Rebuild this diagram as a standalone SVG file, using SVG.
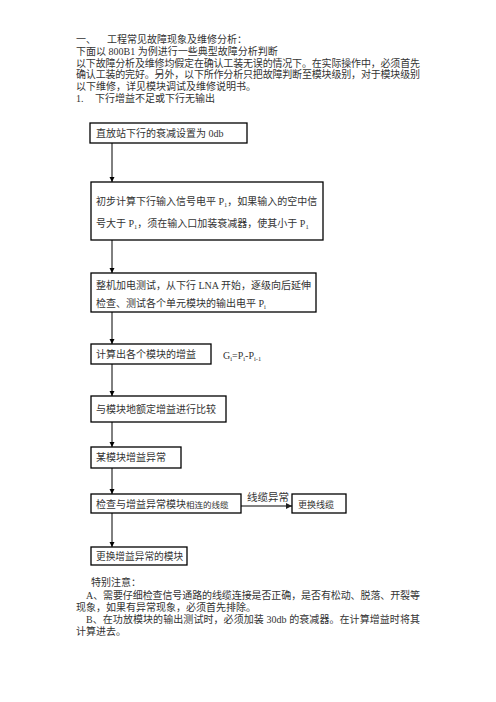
<svg xmlns="http://www.w3.org/2000/svg" width="496" height="702" viewBox="0 0 496 702">
<defs>
<marker id="ah" markerWidth="6" markerHeight="6" refX="5" refY="3" orient="auto" markerUnits="userSpaceOnUse">
<path d="M0,0.5 L5,3 L0,5.5 Z" fill="#000"/>
</marker>
<marker id="ahg" markerWidth="7" markerHeight="7" refX="6" refY="3.5" orient="auto" markerUnits="userSpaceOnUse">
<path d="M0,0.5 L6,3.5 L0,6.5 Z" fill="#222"/>
</marker>
</defs>
<style>
text{font-family:"Liberation Serif","Noto Sans CJK SC",serif;font-size:10px;fill:#333}
.box rect{fill:#fff;stroke:#000;stroke-width:1.3}
.sub{font-size:6.5px}
.conn line{stroke:#000;stroke-width:1}
</style>
<rect width="496" height="702" fill="#fff"/>
<g id="header">
<text x="76" y="43">一、</text>
<text x="107" y="43">工程常见故障现象及维修分析：</text>
<text x="76" y="55">下面以 800B1 为例进行一些典型故障分析判断</text>
<text x="76" y="66.5" textLength="344" lengthAdjust="spacing">以下故障分析及维修均假定在确认工装无误的情况下。在实际操作中，必须首先</text>
<text x="76" y="78" textLength="344" lengthAdjust="spacing">确认工装的完好。另外，以下所作分析只把故障判断至模块级别，对于模块级别</text>
<text x="76" y="89.5">以下维修，详见模块调试及维修说明书。</text>
<text x="76" y="102">1.</text>
<text x="95" y="102">下行增益不足或下行无输出</text>
</g>
<g class="conn" id="connectors">
<line x1="112" y1="143" x2="112" y2="182" marker-end="url(#ah)"/>
<line x1="112" y1="240" x2="112" y2="273" marker-end="url(#ah)"/>
<line x1="112" y1="312" x2="112" y2="344" marker-end="url(#ah)"/>
<line x1="112" y1="364" x2="112" y2="396" marker-end="url(#ah)"/>
<line x1="112" y1="422" x2="112" y2="447" marker-end="url(#ah)"/>
<line x1="112" y1="468" x2="112" y2="494" marker-end="url(#ah)"/>
<line x1="112" y1="513" x2="112" y2="547" marker-end="url(#ah)"/>
<line x1="241" y1="506" x2="292" y2="506" style="stroke:#808080;stroke-width:2" marker-end="url(#ahg)"/>
<text x="247" y="501" style="font-size:10.5px;font-family:'Noto Sans CJK SC',sans-serif">线缆异常</text>
</g>
<g class="box" id="n1">
<rect x="90" y="123" width="157" height="20"/>
<text x="96" y="136.5">直放站下行的衰减设置为 0db</text>
</g>
<g class="box" id="n2">
<rect x="91" y="182" width="232" height="58"/>
<text x="96" y="205">初步计算下行输入信号电平 P<tspan class="sub" dy="2">1</tspan><tspan dy="-2">，如果输入的空中信</tspan></text>
<text x="96" y="227">号大于 P<tspan class="sub" dy="2">1</tspan><tspan dy="-2">，须在输入口加装衰减器，使其小于 P</tspan><tspan class="sub" dy="2">1</tspan></text>
</g>
<g class="box" id="n3">
<rect x="91" y="273" width="225" height="39"/>
<text x="96" y="289">整机加电测试，从下行 LNA 开始，逐级向后延伸</text>
<text x="96" y="307">检查、测试各个单元模块的输出电平 P<tspan class="sub" dy="2">i</tspan></text>
</g>
<g class="box" id="n4">
<rect x="91" y="344" width="120" height="20"/>
<text x="96" y="357.5">计算出各个模块的增益</text>
</g>
<g id="formula">
<text x="223" y="359">G<tspan class="sub" dy="2">i</tspan><tspan dy="-2">=P</tspan><tspan class="sub" dy="2">i</tspan><tspan dy="-2">-P</tspan><tspan class="sub" dy="2">i-1</tspan></text>
</g>
<g class="box" id="n5">
<rect x="91" y="396" width="135" height="26"/>
<text x="96" y="412.5">与模块地额定增益进行比较</text>
</g>
<g class="box" id="n6">
<rect x="91" y="447" width="90" height="21"/>
<text x="96" y="461">某模块增益异常</text>
</g>
<g class="box" id="n7">
<rect x="91" y="494" width="150" height="19"/>
<text x="96" y="507.5">检查与增益异常模块<tspan style="font-size:8.5px">相连的线缆</tspan></text>
</g>
<g class="box" id="n8">
<rect x="292" y="494" width="54" height="19"/>
<text x="298" y="507.5" style="font-size:9px">更换线缆</text>
</g>
<g class="box" id="n9">
<rect x="91" y="547" width="96" height="18"/>
<text x="96" y="559.5" style="font-size:9.7px">更换增益异常的模块</text>
</g>
<g id="notes">
<text x="91" y="586">特别注意：</text>
<text x="86" y="598.5" textLength="334" lengthAdjust="spacing">A、需要仔细检查信号通路的线缆连接是否正确，是否有松动、脱落、开裂等</text>
<text x="76" y="610.5">现象，如果有异常现象，必须首先排除。</text>
<text x="86" y="622.5" textLength="334" lengthAdjust="spacing">B、在功放模块的输出测试时，必须加装 30db 的衰减器。在计算增益时将其</text>
<text x="76" y="634.5">计算进去。</text>
</g>
</svg>
